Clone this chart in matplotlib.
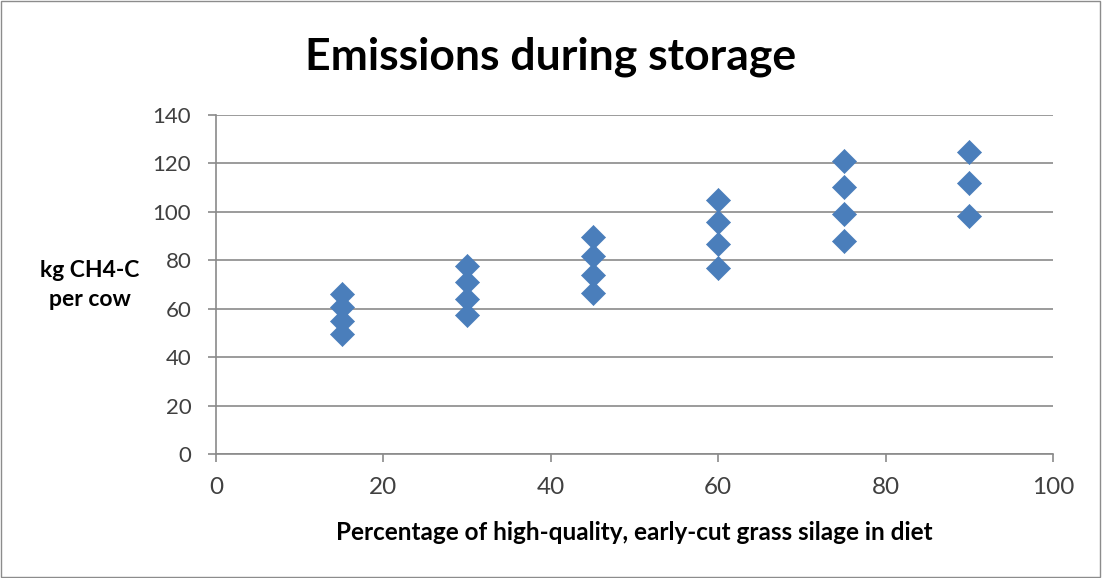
import matplotlib
matplotlib.use("Agg")
import matplotlib.pyplot as plt
from matplotlib.patches import Rectangle

# Data
x_15 = [15, 15, 15, 15]
y_15 = [66.0, 60.5, 55.0, 49.5]
x_30 = [30, 30, 30, 30]
y_30 = [77.5, 70.8, 64.0, 57.5]
x_45 = [45, 45, 45, 45]
y_45 = [89.7, 81.8, 73.8, 66.5]
x_60 = [60, 60, 60, 60]
y_60 = [105.0, 95.6, 86.5, 76.6]
x_75 = [75, 75, 75, 75]
y_75 = [120.8, 110.1, 99.0, 87.7]
x_90 = [90, 90, 90]
y_90 = [124.7, 111.7, 98.3]

xs = x_15 + x_30 + x_45 + x_60 + x_75 + x_90
ys = y_15 + y_30 + y_45 + y_60 + y_75 + y_90

x_ticks = [0, 20, 40, 60, 80, 100]
y_ticks = [0, 20, 40, 60, 80, 100, 120, 140]

title = "Emissions during storage"
x_label = "Percentage of high-quality, early-cut grass silage in diet"
y_label = "kg CH4-C\nper cow"

plt.rcParams['font.family'] = ['Lato', 'DejaVu Sans']

fig = plt.figure(figsize=(11.02, 5.78), dpi=100)
fig.patch.set_facecolor("white")
fig.patches.append(Rectangle((0.001, 0.001), 0.997, 0.997, transform=fig.transFigure,
                             fill=False, edgecolor="#8c8c8c", linewidth=1.0))

ax = fig.add_axes([0.1960, 0.2145, 0.7595, 0.5871])
ax.scatter(xs, ys, marker='D', s=150, color="#4A7EBB", edgecolors="#4A7EBB",
           linewidths=0.5, zorder=3, clip_on=False)

ax.set_xlim(0, 100)
ax.set_ylim(0, 140)
ax.set_xticks(x_ticks)
ax.set_yticks(y_ticks)
ax.set_xticklabels([str(t) for t in x_ticks], fontsize=17.5, color="#404040")
ax.set_yticklabels([str(t) for t in y_ticks], fontsize=16, color="#404040")

ax.grid(axis='y', color="#8a8a8a", linewidth=1.2, zorder=0)
ax.set_axisbelow(True)
for s in ['top', 'right']:
    ax.spines[s].set_visible(False)
for s in ['left', 'bottom']:
    ax.spines[s].set_color("#8a8a8a")
    ax.spines[s].set_linewidth(1.2)
ax.tick_params(axis='both', direction='out', color="#8a8a8a", width=1.2, length=5.8)
ax.tick_params(axis='x', pad=11)
ax.tick_params(axis='y', pad=12)

fig.text(0.5, 0.902, title, ha='center', va='center', fontsize=32, fontweight='bold', color="black")
fig.text(0.5755, 0.078, x_label, ha='center', va='center', fontsize=17.5, fontweight='bold', color="black")
fig.text(0.0817, 0.507, y_label, ha='center', va='center', fontsize=16.5, fontweight='bold',
         color="black", linespacing=1.45, multialignment='center')

fig.savefig("out.png", dpi=100, facecolor="white")
